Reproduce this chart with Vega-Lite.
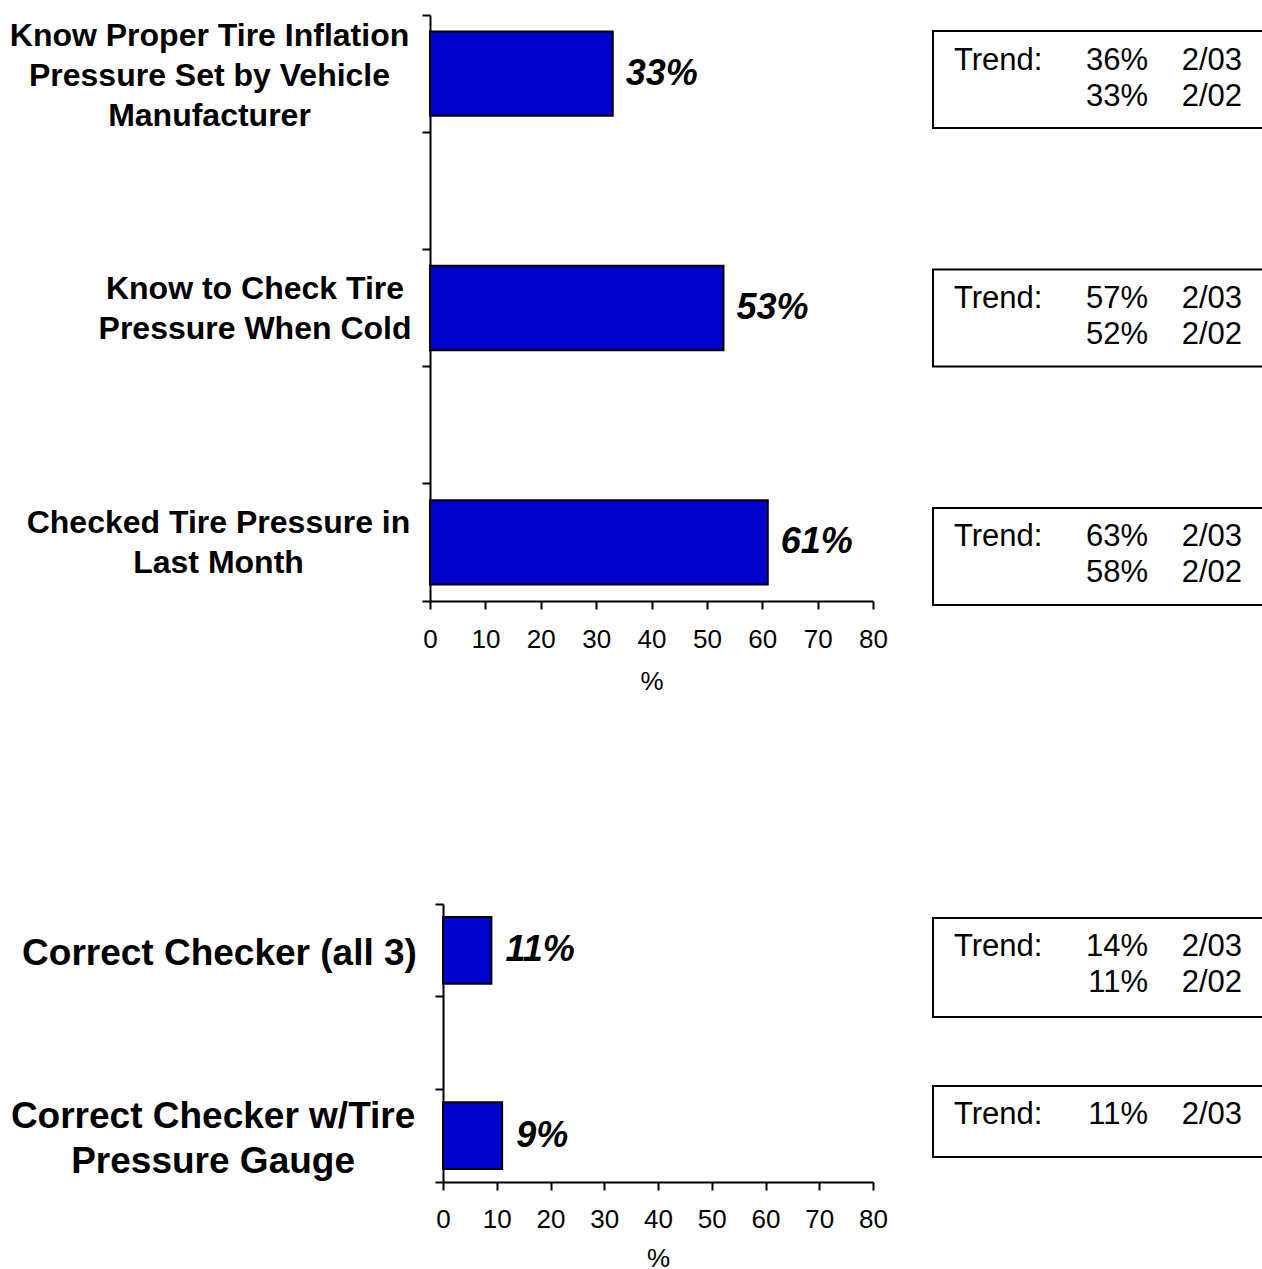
{
  "$schema": "https://vega.github.io/schema/vega-lite/v6.json",
  "background": "white",
  "padding": {"left": 9, "top": -1, "right": 0, "bottom": 0},
  "config": {"view": {"stroke": null}, "font": "Liberation Sans"},
  "datasets": {
    "top": [
      {"item": "Know Proper Tire Inflation|Pressure Set by Vehicle|Manufacturer", "value": 33, "label": "33%"},
      {"item": "Know to Check Tire|Pressure When Cold", "value": 53, "label": "53%"},
      {"item": "Checked Tire Pressure in|Last Month", "value": 61, "label": "61%"}
    ],
    "topTrend": [
      {"item": "Know Proper Tire Inflation|Pressure Set by Vehicle|Manufacturer", "period": "2/03", "pct": "36%"},
      {"item": "Know Proper Tire Inflation|Pressure Set by Vehicle|Manufacturer", "period": "2/02", "pct": "33%"},
      {"item": "Know to Check Tire|Pressure When Cold", "period": "2/03", "pct": "57%"},
      {"item": "Know to Check Tire|Pressure When Cold", "period": "2/02", "pct": "52%"},
      {"item": "Checked Tire Pressure in|Last Month", "period": "2/03", "pct": "63%"},
      {"item": "Checked Tire Pressure in|Last Month", "period": "2/02", "pct": "58%"}
    ],
    "bottom": [
      {"item": "Correct Checker (all 3)", "value": 9, "label": "11%"},
      {"item": "Correct Checker w/Tire|Pressure Gauge", "value": 11, "label": "9%"}
    ],
    "bottomTrend": [
      {"item": "Correct Checker (all 3)", "period": "2/03", "pct": "14%"},
      {"item": "Correct Checker (all 3)", "period": "2/02", "pct": "11%"},
      {"item": "Correct Checker w/Tire|Pressure Gauge", "period": "2/03", "pct": "11%"}
    ]
  },
  "resolve": {"scale": {"x": "independent", "y": "independent"}},
  "spacing": 191,
  "vconcat": [
    {
      "spacing": 44,
      "resolve": {"scale": {"x": "independent", "y": "independent"}},
      "hconcat": [
        {
          "width": 443,
          "height": 586,
          "data": {"name": "top"},
          "encoding": {
            "y": {
              "field": "item", "type": "nominal", "sort": null,
              "scale": {"domain": ["Know Proper Tire Inflation|Pressure Set by Vehicle|Manufacturer", "gap1", "Know to Check Tire|Pressure When Cold", "gap2", "Checked Tire Pressure in|Last Month"], "paddingInner": 0, "paddingOuter": 0},
              "axis": {
                "title": null,
                "domainColor": "black", "domainWidth": 2,
                "tickColor": "black", "tickWidth": 2, "tickSize": 8,
                "bandPosition": 1, "tickExtra": true,
                "labelOffset": {"expr": "datum && isString(datum.value) && indexof(datum.value,'Know Proper')==0 ? -38 : -19"},
                "labelExpr": "!isString(datum.value) || indexof(datum.value,'gap')==0 ? '' : split(datum.value,'|')",
                "labelAlign": "center", "labelBaseline": "middle",
                "labelFont": "Liberation Sans", "labelFontSize": 32, "labelFontWeight": "bold", "labelColor": "black",
                "labelLineHeight": 40, "labelLimit": 1000,
                "labelPadding": {"expr": "datum && isString(datum.value) && indexof(datum.value,'Know Proper')==0 ? 213 : (datum && isString(datum.value) && indexof(datum.value,'Know to')==0 ? 167.5 : 204)"}
              }
            }
          },
          "layer": [
            {
              "mark": {"type": "bar", "fill": "#0000CC", "stroke": "black", "strokeWidth": 2, "height": {"band": 0.72}},
              "encoding": {
                "x": {
                  "field": "value", "type": "quantitative",
                  "scale": {"domain": [0, 80], "nice": false},
                  "axis": {
                    "title": "%", "values": [0, 10, 20, 30, 40, 50, 60, 70, 80], "grid": false, "labelFlush": false,
                    "domainColor": "black", "domainWidth": 2, "tickColor": "black", "tickWidth": 2, "tickSize": 8,
                    "labelFont": "Liberation Sans", "labelFontSize": 26, "labelColor": "black", "labelPadding": 17,
                    "titleFont": "Liberation Sans", "titleFontSize": 26, "titleFontWeight": "normal", "titleColor": "black", "titlePadding": 16
                  }
                }
              }
            },
            {
              "mark": {"type": "text", "align": "left", "baseline": "middle", "dx": 13, "font": "Liberation Sans", "fontSize": 36, "fontWeight": "bold", "fontStyle": "italic", "color": "black"},
              "encoding": {
                "x": {"field": "value", "type": "quantitative"},
                "text": {"field": "label"}
              }
            }
          ]
        },
        {
          "width": 332,
          "height": 606,
          "data": {"name": "topTrend"},
          "encoding": {
            "y": {
              "field": "item", "type": "nominal", "sort": null,
              "scale": {"domain": ["Know Proper Tire Inflation|Pressure Set by Vehicle|Manufacturer", "Know to Check Tire|Pressure When Cold", "Checked Tire Pressure in|Last Month"], "paddingInner": 0.593, "paddingOuter": 0.067},
              "axis": null
            }
          },
          "layer": [
            {
              "transform": [{"filter": "datum.period == '2/03'"}],
              "mark": {"type": "rect", "fill": "white", "stroke": "black", "strokeWidth": 2},
              "encoding": {}
            },
            {
              "transform": [{"filter": "datum.period == '2/03'"}],
              "mark": {"type": "text", "align": "left", "baseline": "middle", "dx": 21, "dy": -19, "font": "Liberation Sans", "fontSize": 31, "color": "black"},
              "encoding": {
                "x": {"datum": "label", "type": "nominal", "bandPosition": 0, "scale": {"type": "band", "domain": ["label", "pct", "date"], "range": [0, 330], "paddingInner": 0, "paddingOuter": 0}, "axis": null},
                "text": {"value": "Trend:"}
              }
            },
            {
              "transform": [{"filter": "datum.period == '2/03'"}],
              "mark": {"type": "text", "align": "right", "baseline": "middle", "dx": -5, "dy": -19, "font": "Liberation Sans", "fontSize": 31, "color": "black"},
              "encoding": {
                "x": {"datum": "pct", "type": "nominal", "bandPosition": 1, "axis": null},
                "text": {"field": "pct"}
              }
            },
            {
              "transform": [{"filter": "datum.period == '2/03'"}],
              "mark": {"type": "text", "align": "right", "baseline": "middle", "dx": -21, "dy": -19, "font": "Liberation Sans", "fontSize": 31, "color": "black"},
              "encoding": {
                "x": {"datum": "date", "type": "nominal", "bandPosition": 1, "axis": null},
                "text": {"field": "period"}
              }
            },
            {
              "transform": [{"filter": "datum.period == '2/02'"}],
              "mark": {"type": "text", "align": "right", "baseline": "middle", "dx": -5, "dy": 17, "font": "Liberation Sans", "fontSize": 31, "color": "black"},
              "encoding": {
                "x": {"datum": "pct", "type": "nominal", "bandPosition": 1, "axis": null},
                "text": {"field": "pct"}
              }
            },
            {
              "transform": [{"filter": "datum.period == '2/02'"}],
              "mark": {"type": "text", "align": "right", "baseline": "middle", "dx": -21, "dy": 17, "font": "Liberation Sans", "fontSize": 31, "color": "black"},
              "encoding": {
                "x": {"datum": "date", "type": "nominal", "bandPosition": 1, "axis": null},
                "text": {"field": "period"}
              }
            }
          ]
        }
      ]
    },
    {
      "spacing": 44,
      "resolve": {"scale": {"x": "independent", "y": "independent"}},
      "hconcat": [
        {
          "width": 443,
          "height": 278,
          "data": {"name": "bottom"},
          "encoding": {
            "y": {
              "field": "item", "type": "nominal", "sort": null,
              "scale": {"domain": ["Correct Checker (all 3)", "gap1", "Correct Checker w/Tire|Pressure Gauge"], "paddingInner": 0, "paddingOuter": 0},
              "axis": {
                "title": null, "offset": -13,
                "domainColor": "black", "domainWidth": 2,
                "tickColor": "black", "tickWidth": 2, "tickSize": 8,
                "bandPosition": 1, "tickExtra": true,
                "labelOffset": {"expr": "datum && isString(datum.value) && indexof(datum.value,'Correct Checker w')==0 ? -18.5 : 4"},
                "labelExpr": "!isString(datum.value) || indexof(datum.value,'gap')==0 ? '' : split(datum.value,'|')",
                "labelAlign": "center", "labelBaseline": "middle",
                "labelFont": "Liberation Sans", "labelFontSize": 37, "labelFontWeight": "bold", "labelColor": "black",
                "labelLineHeight": 45, "labelLimit": 1000,
                "labelPadding": {"expr": "datum && isString(datum.value) && indexof(datum.value,'Correct Checker w')==0 ? 222.4 : 216"}
              }
            }
          },
          "layer": [
            {
              "mark": {"type": "bar", "fill": "#0000CC", "stroke": "black", "strokeWidth": 2, "height": {"band": 0.72}},
              "encoding": {
                "x": {
                  "field": "value", "type": "quantitative",
                  "scale": {"domain": [0, 80], "nice": false, "range": [13, 443]},
                  "axis": {
                    "title": "%", "values": [0, 10, 20, 30, 40, 50, 60, 70, 80], "grid": false, "labelFlush": false,
                    "domainColor": "black", "domainWidth": 2, "tickColor": "black", "tickWidth": 2, "tickSize": 8,
                    "labelFont": "Liberation Sans", "labelFontSize": 26, "labelColor": "black", "labelPadding": 16,
                    "titleFont": "Liberation Sans", "titleFontSize": 26, "titleFontWeight": "normal", "titleColor": "black", "titlePadding": 13
                  }
                }
              }
            },
            {
              "mark": {"type": "text", "align": "left", "baseline": "middle", "dx": 14, "font": "Liberation Sans", "fontSize": 36, "fontWeight": "bold", "fontStyle": "italic", "color": "black"},
              "encoding": {
                "x": {"field": "value", "type": "quantitative"},
                "text": {"field": "label"}
              }
            }
          ]
        },
        {
          "width": 332,
          "height": 292,
          "data": {"name": "bottomTrend"},
          "encoding": {
            "y": {
              "field": "item", "type": "nominal", "sort": null,
              "scale": {"domain": ["Correct Checker (all 3)", "Correct Checker w/Tire|Pressure Gauge"], "paddingInner": 0.4286, "paddingOuter": 0.0833},
              "axis": null
            }
          },
          "layer": [
            {
              "transform": [{"filter": "datum.period == '2/03' && indexof(datum.item,'Correct Checker (')==0"}],
              "mark": {"type": "rect", "fill": "white", "stroke": "black", "strokeWidth": 2, "height": 99, "yOffset": 1.5},
              "encoding": {}
            },
            {
              "transform": [{"filter": "datum.period == '2/03' && indexof(datum.item,'Correct Checker w')==0"}],
              "mark": {"type": "rect", "fill": "white", "stroke": "black", "strokeWidth": 2, "height": 71, "yOffset": -12.5},
              "encoding": {}
            },
            {
              "transform": [{"filter": "datum.period == '2/03'"}],
              "mark": {"type": "text", "align": "left", "baseline": "middle", "dx": 21, "dy": -19, "font": "Liberation Sans", "fontSize": 31, "color": "black"},
              "encoding": {
                "x": {"datum": "label", "type": "nominal", "bandPosition": 0, "scale": {"type": "band", "domain": ["label", "pct", "date"], "range": [0, 330], "paddingInner": 0, "paddingOuter": 0}, "axis": null},
                "text": {"value": "Trend:"}
              }
            },
            {
              "transform": [{"filter": "datum.period == '2/03'"}],
              "mark": {"type": "text", "align": "right", "baseline": "middle", "dx": -5, "dy": -19, "font": "Liberation Sans", "fontSize": 31, "color": "black"},
              "encoding": {
                "x": {"datum": "pct", "type": "nominal", "bandPosition": 1, "axis": null},
                "text": {"field": "pct"}
              }
            },
            {
              "transform": [{"filter": "datum.period == '2/03'"}],
              "mark": {"type": "text", "align": "right", "baseline": "middle", "dx": -21, "dy": -19, "font": "Liberation Sans", "fontSize": 31, "color": "black"},
              "encoding": {
                "x": {"datum": "date", "type": "nominal", "bandPosition": 1, "axis": null},
                "text": {"field": "period"}
              }
            },
            {
              "transform": [{"filter": "datum.period == '2/02'"}],
              "mark": {"type": "text", "align": "right", "baseline": "middle", "dx": -5, "dy": 17, "font": "Liberation Sans", "fontSize": 31, "color": "black"},
              "encoding": {
                "x": {"datum": "pct", "type": "nominal", "bandPosition": 1, "axis": null},
                "text": {"field": "pct"}
              }
            },
            {
              "transform": [{"filter": "datum.period == '2/02'"}],
              "mark": {"type": "text", "align": "right", "baseline": "middle", "dx": -21, "dy": 17, "font": "Liberation Sans", "fontSize": 31, "color": "black"},
              "encoding": {
                "x": {"datum": "date", "type": "nominal", "bandPosition": 1, "axis": null},
                "text": {"field": "period"}
              }
            }
          ]
        }
      ]
    }
  ]
}
